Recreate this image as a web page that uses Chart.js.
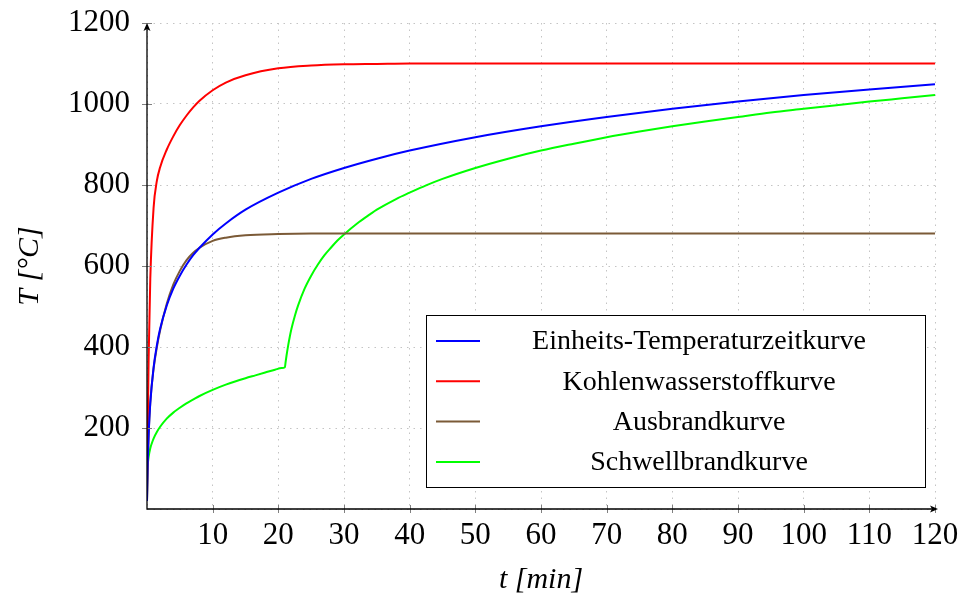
<!DOCTYPE html>
<html>
<head>
<meta charset="utf-8">
<script src="https://cdn.jsdelivr.net/npm/chart.js@4.4.1/dist/chart.umd.min.js"></script>
<style>
	body { margin: 0; background: #fff; }
	#wrap { width: 961px; height: 603px; }
</style>
</head>
<body>
<div id="wrap"><canvas id="fire-chart"></canvas></div>
<script>
// Zeit in Minuten
const T_MAIN = [0, 0.1, 0.25, 0.5, 1, 1.5, 2, 3, 4, 5, 6, 7, 8, 10, 12, 15, 20, 25, 30, 35, 40, 50, 60, 70, 80, 90, 100, 110, 120];
const ETK = [20, 108, 185, 261, 349, 404, 445, 502, 544, 576, 603, 626, 645, 678, 705, 739, 781, 815, 842, 865, 885, 918, 945, 968, 988, 1006, 1022, 1036, 1049];
const HC = [20, 187, 373, 568, 743, 810, 844, 887, 920, 948, 971, 991, 1008, 1034, 1053, 1071, 1088, 1095, 1098, 1099, 1100, 1100, 1100, 1100, 1100, 1100, 1100, 1100, 1100];
const AUS = [20, 100, 182, 263, 346, 399, 441, 506, 554, 588, 614, 632, 645, 662, 670, 676, 679, 680, 680, 680, 680, 680, 680, 680, 680, 680, 680, 680, 680];

const T_SCHWELL = [0, 0.05, 0.1, 0.25, 0.5, 0.75, 1, 1.5, 2, 3, 4, 5, 6, 7, 8, 10, 12, 15, 16.5, 18, 19.5, 20.5, 21, 21.1, 21.25, 21.5, 21.75, 22, 22.5, 23, 24, 25, 26, 27, 28, 29, 30, 32, 34, 35, 38, 40, 42.5, 45, 50, 55, 60, 65, 70, 75, 80, 85, 90, 95, 100, 105, 110, 115, 120];
const SCHWELL = [20, 93, 107, 129, 150, 163, 174, 190, 203, 223, 238, 250, 261, 270, 279, 294, 307, 323, 330, 337, 344, 348, 350, 362, 379, 404, 426, 445, 476, 502, 544, 576, 603, 626, 645, 663, 678, 705, 728, 739, 766, 781, 799, 815, 842, 865, 885, 902, 918, 932, 945, 957, 968, 979, 988, 997, 1006, 1014, 1022];

const LABELS = [`Einheits-Temperaturzeitkurve`, `Kohlenwasserstoffkurve`, `Ausbrandkurve`, `Schwellbrandkurve`];
const X_TICKS = [10, 20, 30, 40, 50, 60, 70, 80, 90, 100, 110, 120];
const Y_TICKS = [200, 400, 600, 800, 1000, 1200];

const FG_BLUE = `#0000ff`;
const FG_RED = `#ff0000`;
const FG_BROWN = `#7b5a37`;
const FG_GREEN = `#00ff00`;
const SERIF = `"Liberation Serif", "DejaVu Serif", serif`;

let toPoints = (ts, vs) => ts.map((t, i) => ({ x: t, y: vs[i] }));

let lineSet = (label, ts, vs, color) => {
	return {
		label: label,
		data: toPoints(ts, vs),
		borderColor: color,
		backgroundColor: color,
		borderWidth: 2,
		pointRadius: 0,
		cubicInterpolationMode: `monotone`,
		fill: false,
	};
};

// feste Groesse der Achsen, ohne Extra-Abstand fuer die Beschriftung
let fixScale = (scale, w, h) => {
	if (w) scale.width = w;
	if (h) scale.height = h;
	scale.paddingTop = 0;
	scale.paddingBottom = 0;
	scale.paddingLeft = 0;
	scale.paddingRight = 0;
};

// Achsen mit Pfeilen, Ticks quer zur Achse und Legende im Stil von pgfplots
const axesAndLegend = {
	id: `axesAndLegend`,
	afterDraw: (chart) => {
		let ctx = chart.ctx;
		let { left, right, top, bottom } = chart.chartArea;
		let xs = chart.scales.x, ys = chart.scales.y;
		ctx.save();

		ctx.strokeStyle = `#808080`;
		ctx.lineWidth = 1;
		for (let v of X_TICKS) {
			let px = Math.round(xs.getPixelForValue(v)) + 0.5;
			ctx.beginPath(); ctx.moveTo(px, bottom - 4); ctx.lineTo(px, bottom + 4); ctx.stroke();
		}
		for (let v of Y_TICKS) {
			let py = Math.round(ys.getPixelForValue(v)) + 0.5;
			ctx.beginPath(); ctx.moveTo(left - 5, py); ctx.lineTo(left + 5, py); ctx.stroke();
		}

		ctx.strokeStyle = `#000`;
		ctx.fillStyle = `#000`;
		ctx.lineWidth = 1.3;
		ctx.beginPath();
		ctx.moveTo(left, top + 2);
		ctx.lineTo(left, bottom);
		ctx.lineTo(right + 1, bottom);
		ctx.stroke();
		// Pfeilspitzen
		ctx.beginPath();
		ctx.moveTo(left, top); ctx.lineTo(left - 3.5, top + 8); ctx.lineTo(left, top + 6); ctx.lineTo(left + 3.5, top + 8);
		ctx.closePath(); ctx.fill();
		ctx.beginPath();
		ctx.moveTo(right + 3, bottom); ctx.lineTo(right - 5, bottom - 3.5); ctx.lineTo(right - 3, bottom); ctx.lineTo(right - 5, bottom + 3.5);
		ctx.closePath(); ctx.fill();

		// Legende
		let bw = 499, bh = 172;
		let bx = right - 10 - bw, by = bottom - 22 - bh;
		ctx.fillStyle = `#fff`;
		ctx.fillRect(bx, by, bw, bh);
		ctx.strokeStyle = `#000`;
		ctx.lineWidth = 1;
		ctx.strokeRect(Math.round(bx) + 0.5, Math.round(by) + 0.5, bw, bh);
		ctx.font = `28px ${SERIF}`;
		ctx.textAlign = `center`;
		ctx.textBaseline = `middle`;
		chart.data.datasets.forEach((ds, i) => {
			let ry = by + 26 + i * 40.3;
			ctx.strokeStyle = ds.borderColor;
			ctx.lineWidth = 2;
			ctx.beginPath(); ctx.moveTo(bx + 10, ry); ctx.lineTo(bx + 54, ry); ctx.stroke();
			ctx.fillStyle = `#000`;
			ctx.fillText(ds.label, bx + 273, ry + 1);
		});
		ctx.restore();
	},
};

let fireChart = new Chart(document.getElementById(`fire-chart`).getContext(`2d`),
{
	type: `line`,
	data: {
		datasets: [
			lineSet(LABELS[0], T_MAIN, ETK, FG_BLUE),
			lineSet(LABELS[1], T_MAIN, HC, FG_RED),
			lineSet(LABELS[2], T_MAIN, AUS, FG_BROWN),
			lineSet(LABELS[3], T_SCHWELL, SCHWELL, FG_GREEN),
		],
	},
	options: {
		responsive: true,
		maintainAspectRatio: false,
		animation: false,
		layout: { padding: { top: 23, right: 26, left: 0, bottom: 0 } },
		plugins: {
			legend: { display: false },
			tooltip: { enabled: false },
		},
		scales: {
			x: {
				type: `linear`,
				min: 0,
				max: 120,
				afterFit: (scale) => fixScale(scale, 0, 94),
				afterBuildTicks: (scale) => { scale.ticks = [0].concat(X_TICKS).map(v => ({ value: v })); },
				ticks: {
					callback: (v) => (v === 0 ? `` : v),
					font: { family: SERIF, size: 31 },
					color: `#000`,
					padding: 8,
					maxRotation: 0,
					autoSkip: false,
				},
				grid: { color: `#c4c4c4`, lineWidth: 1, drawTicks: false },
				border: { display: false, dash: [1.5, 5] },
				title: {
					display: true,
					text: `t [min]`,
					font: { family: SERIF, size: 30, style: `italic` },
					color: `#000`,
					padding: { top: 0, bottom: 5 },
				},
			},
			y: {
				type: `linear`,
				min: 0,
				max: 1200,
				afterFit: (scale) => fixScale(scale, 147, 0),
				afterBuildTicks: (scale) => { scale.ticks = [0].concat(Y_TICKS).map(v => ({ value: v })); },
				ticks: {
					callback: (v) => (v === 0 ? `` : v),
					font: { family: SERIF, size: 31 },
					color: `#000`,
					padding: 17,
				},
				grid: { color: `#c4c4c4`, lineWidth: 1, drawTicks: false },
				border: { display: false, dash: [1.5, 5] },
				title: {
					display: true,
					text: `T [°C]`,
					font: { family: SERIF, size: 30, style: `italic` },
					color: `#000`,
					padding: { top: 12, bottom: 0 },
				},
			},
		},
	},
	plugins: [axesAndLegend],
});
</script>
</body>
</html>
